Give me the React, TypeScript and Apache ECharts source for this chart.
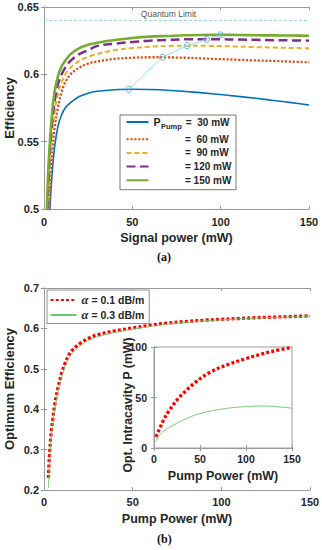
import React, { useEffect, useRef } from "react";
import * as echarts from "echarts";

// ---------- data ----------
const signalPower = [1.5, 2, 3, 4, 5, 6, 8, 10, 12, 15, 20, 25, 30, 40, 50, 60, 70, 80, 90, 100, 110, 120, 130, 140, 150];
const eff30 = [0.40, 0.43, 0.49, 0.515, 0.533, 0.546, 0.562, 0.570, 0.575, 0.579, 0.5835, 0.586, 0.5874, 0.5886, 0.5889, 0.5887, 0.5882, 0.5873, 0.5862, 0.585, 0.5836, 0.5822, 0.5806, 0.579, 0.5772];
const eff60 = [0.44, 0.47, 0.505, 0.53, 0.547, 0.56, 0.576, 0.587, 0.594, 0.600, 0.605, 0.608, 0.6095, 0.6115, 0.6123, 0.6127, 0.6126, 0.6123, 0.6118, 0.6113, 0.6108, 0.6103, 0.6099, 0.6094, 0.609];
const eff90 = [0.47, 0.495, 0.525, 0.546, 0.561, 0.572, 0.586, 0.594, 0.600, 0.605, 0.610, 0.613, 0.615, 0.618, 0.6195, 0.6205, 0.621, 0.6213, 0.6212, 0.621, 0.6206, 0.6202, 0.6199, 0.6196, 0.6193];
const eff120 = [0.48, 0.505, 0.535, 0.555, 0.569, 0.58, 0.593, 0.600, 0.605, 0.610, 0.615, 0.618, 0.621, 0.6228, 0.624, 0.625, 0.6255, 0.626, 0.626, 0.626, 0.6258, 0.6256, 0.6254, 0.6252, 0.625];
const eff150 = [0.49, 0.515, 0.543, 0.562, 0.577, 0.587, 0.599, 0.606, 0.610, 0.615, 0.6195, 0.622, 0.6235, 0.6255, 0.627, 0.628, 0.6285, 0.629, 0.6292, 0.6293, 0.6292, 0.629, 0.6289, 0.6288, 0.6287];
const pumpLabels = ["30 mW", "60 mW", "90 mW", "120 mW", "150 mW"];
const optSignal = [48, 67, 81, 92, 100];
const optEff = [0.5889, 0.6127, 0.6213, 0.626, 0.6293];
const quantumLimit = 0.64;

const pumpPower = [2.5, 3, 4, 5, 6, 8, 10, 12, 15, 20, 25, 30, 40, 50, 60, 70, 80, 90, 100, 110, 120, 130, 140, 150];
const optEffA01 = [0.23, 0.28, 0.34, 0.377, 0.41, 0.455, 0.49, 0.515, 0.541, 0.562, 0.575, 0.584, 0.594, 0.601, 0.608, 0.6135, 0.617, 0.620, 0.6225, 0.6245, 0.6265, 0.628, 0.6295, 0.631];
const optEffA03 = [0.205, 0.26, 0.325, 0.365, 0.398, 0.445, 0.48, 0.506, 0.533, 0.556, 0.570, 0.579, 0.590, 0.598, 0.605, 0.611, 0.615, 0.6185, 0.621, 0.6235, 0.6255, 0.627, 0.6285, 0.630];
const alphaLabels = ["α = 0.1 dB/m", "α = 0.3 dB/m"];

const pumpInset = [2, 4, 6.5, 10, 15, 25, 35, 45, 60, 80, 100, 115, 130, 150];
const intraA01 = [11, 15, 20, 27, 35, 47.5, 57, 65, 74.5, 82.5, 88.5, 92.5, 96, 99.5];
const intraA03 = [6.5, 9.5, 13, 16.5, 19.5, 24.6, 29, 32.8, 36.3, 39.4, 41, 41.6, 41.2, 39.4];

// ---------- styles ----------
const FONT = "'Liberation Sans', Arial, sans-serif";
const TXT = "#262626";
const AX = "#9a9a9a";

const zip = (xs: number[], ys: number[]) => xs.map((x, i) => [x, ys[i]]);

function xAx(grid: number, pos: "bottom" | "top", min: number, max: number, interval: number, extra: any = {}) {
  const main = pos === "bottom";
  return {
    type: "value",
    gridIndex: grid,
    position: pos,
    min,
    max,
    interval,
    nameMoveOverlap: false,
    axisLine: { show: true, lineStyle: { color: AX, width: 1 } },
    axisTick: { show: true, inside: true, length: 3, lineStyle: { color: AX } },
    axisLabel: { show: main, color: TXT, fontWeight: "bold", fontFamily: FONT, fontSize: 11, margin: 6 },
    splitLine: { show: false },
    ...extra,
  };
}
function yAx(grid: number, pos: "left" | "right", min: number, max: number, interval: number, extra: any = {}) {
  const main = pos === "left";
  return {
    type: "value",
    gridIndex: grid,
    position: pos,
    min,
    max,
    interval,
    nameMoveOverlap: false,
    axisLine: { show: true, lineStyle: { color: AX, width: 1 } },
    axisTick: { show: true, inside: true, length: 3, lineStyle: { color: AX } },
    axisLabel: { show: main, color: TXT, fontWeight: "bold", fontFamily: FONT, fontSize: 11, margin: 5 },
    splitLine: { show: false },
    ...extra,
  };
}
const nameStyle = (size: number) => ({ color: TXT, fontWeight: "bold", fontFamily: FONT, fontSize: size });
const hiddenSymbol = { color: "rgba(0,0,0,0)", borderWidth: 0, opacity: 0 };

export default function App() {
  const ref = useRef<HTMLDivElement>(null);
  useEffect(() => {
    if (!ref.current) return;
    const chart = echarts.init(ref.current, undefined, { renderer: "svg" });

    const topColors = ["#0072BD", "#D95319", "#EDB120", "#7E2F8E", "#77AC30"];
    const topData = [eff30, eff60, eff90, eff120, eff150];
    const topLine = [
      { width: 1.6, type: "solid" },
      { width: 2.3, type: [2.2, 1.7] },
      { width: 2, type: [5, 3] },
      { width: 2.5, type: [9, 4.5] },
      { width: 2.6, type: "solid" },
    ];

    const option: any = {
      animation: false,
      backgroundColor: "#ffffff",
      grid: [
        { left: 44, top: 7, width: 265, height: 202, show: false, outerBoundsMode: "none", containLabel: false },
        { left: 44, top: 288, width: 266, height: 202, show: false, outerBoundsMode: "none", containLabel: false },
        { left: 154, top: 347, width: 138, height: 101, show: true, backgroundColor: "#ffffff", borderColor: AX, borderWidth: 1, z: 10, outerBoundsMode: "none", containLabel: false },
      ],
      xAxis: [
        xAx(0, "bottom", 0, 150, 50, { axisLabel: { color: TXT, fontWeight: "bold", fontFamily: FONT, fontSize: 11, margin: 7 }, name: "Signal power (mW)", nameLocation: "middle", nameGap: 22.5, nameTextStyle: nameStyle(12.5) }),
        xAx(0, "top", 0, 150, 50),
        xAx(1, "bottom", 0, 150, 50, { name: "Pump Power (mW)", nameLocation: "middle", nameGap: 22.5, nameTextStyle: nameStyle(12.5) }),
        xAx(1, "top", 0, 150, 50),
        xAx(2, "bottom", 0, 150, 50, { z: 11, axisLabel: { color: TXT, fontWeight: "bold", fontFamily: FONT, fontSize: 10.5, margin: 5 }, name: "Pump Power (mW)", nameLocation: "middle", nameGap: 21.5, nameTextStyle: nameStyle(12.5) }),
        xAx(2, "top", 0, 150, 50, { z: 11 }),
      ],
      yAxis: [
        yAx(0, "left", 0.5, 0.65, 0.05, { name: "Efficiency", nameLocation: "middle", nameGap: 28.5, nameTextStyle: nameStyle(13) }),
        yAx(0, "right", 0.5, 0.65, 0.05),
        yAx(1, "left", 0.2, 0.7, 0.1, { name: "Optimum Efficiency", nameLocation: "middle", nameGap: 28.5, nameTextStyle: nameStyle(13) }),
        yAx(1, "right", 0.2, 0.7, 0.1),
        yAx(2, "left", 0, 100, 50, { z: 11, axisLabel: { color: TXT, fontWeight: "bold", fontFamily: FONT, fontSize: 10.5, margin: 7 } }),
        yAx(2, "right", 0, 100, 50, { z: 11 }),
      ],
      legend: [
        {
          data: pumpLabels,
          orient: "vertical",
          left: 120,
          top: 115,
          padding: [1.5, 4.6, 4.4, 5.5],
          itemGap: 3.7,
          itemWidth: 22,
          itemHeight: 9,
          itemStyle: hiddenSymbol,
          backgroundColor: "#ffffff",
          borderColor: "#555",
          borderWidth: 0.8,
          borderRadius: 0,
          selectedMode: false,
          textStyle: {
            fontFamily: FONT,
            fontWeight: "bold",
            fontSize: 10,
            color: TXT,
            rich: {
              p: { fontFamily: FONT, fontWeight: "bold", fontSize: 10.5, lineHeight: 17, color: TXT },
              s: { fontFamily: FONT, fontWeight: "bold", fontSize: 7.5, lineHeight: 8, verticalAlign: "bottom", padding: [0, 4, 0, 0.5], color: TXT },
              v0: { fontFamily: FONT, fontWeight: "bold", fontSize: 10, lineHeight: 17, color: TXT },
              v: { fontFamily: FONT, fontWeight: "bold", fontSize: 10, lineHeight: 9.2, padding: [0, 0, 0, 31.5], color: TXT },
            },
          },
          formatter: (name: string) => {
            const i = pumpLabels.indexOf(name);
            const pad = name.length < 6 ? "=  " : "= ";
            return i === 0 ? `{p|P}{s|Pump}{v0|${pad}${name}}` : `{v|${pad}${name}}`;
          },
        },
        {
          data: alphaLabels,
          orient: "vertical",
          left: 47,
          top: 290,
          padding: [3.5, 5, 2, 2.5],
          itemGap: 2,
          itemWidth: 26,
          itemHeight: 10,
          itemStyle: hiddenSymbol,
          backgroundColor: "#ffffff",
          borderColor: "#777",
          borderWidth: 0.8,
          borderRadius: 0,
          selectedMode: false,
          textStyle: {
            fontFamily: FONT,
            fontWeight: "bold",
            fontSize: 10.5,
            color: TXT,
            rich: {
              a: { fontFamily: "'Liberation Serif', 'DejaVu Serif', serif", fontStyle: "italic", fontSize: 12.5, lineHeight: 13, color: TXT },
              t: { fontFamily: FONT, fontWeight: "bold", fontSize: 10.5, lineHeight: 13, padding: [0, 0, 0, 3], color: TXT },
            },
          },
          formatter: (name: string) => `{a|α}{t|${name.replace("α = ", "= ")}}`,
        },
      ],
      series: [
        {
          name: "Quantum Limit",
          type: "line",
          xAxisIndex: 0,
          yAxisIndex: 0,
          data: [],
          markLine: {
            silent: true,
            symbol: "none",
            data: [{ yAxis: quantumLimit }],
            lineStyle: { color: "#9dd3ef", type: [3, 2], width: 1 },
            label: { show: true, position: "insideMiddleTop", formatter: "Quantum Limit", color: "#555", fontFamily: FONT, fontSize: 8.5, distance: 1.5, offset: [-8, 0] },
          },
        },
        ...topData.map((d, i) => ({
          name: pumpLabels[i],
          type: "line",
          xAxisIndex: 0,
          yAxisIndex: 0,
          data: zip(signalPower, d),
          showSymbol: false,
          symbol: "none",
          smooth: 0.35,
          clip: true,
          color: topColors[i],
          lineStyle: { color: topColors[i], ...topLine[i] },
          z: 2 + i,
        })),
        {
          name: "optimum",
          type: "line",
          xAxisIndex: 0,
          yAxisIndex: 0,
          data: zip(optSignal, optEff),
          symbol: "circle",
          symbolSize: 6,
          showSymbol: true,
          color: "#4dbeee",
          itemStyle: { color: "rgba(255,255,255,0)", borderColor: "#4dbeee", borderWidth: 1 },
          lineStyle: { color: "#8fd6f2", width: 0.9 },
          z: 9,
        },
        {
          name: alphaLabels[0],
          type: "line",
          xAxisIndex: 2,
          yAxisIndex: 2,
          data: zip(pumpPower, optEffA01),
          symbol: "none",
          smooth: 0.35,
          color: "#ff0000",
          lineStyle: { color: "#ff0000", width: 3.3, type: [3, 2.2] },
          z: 3,
        },
        {
          name: alphaLabels[1],
          type: "line",
          xAxisIndex: 2,
          yAxisIndex: 2,
          data: zip(pumpPower, optEffA03),
          symbol: "none",
          smooth: 0.35,
          color: "#6cc66c",
          lineStyle: { color: "#6cc66c", width: 0.9 },
          z: 4,
        },
        {
          name: "inset α = 0.1",
          type: "line",
          xAxisIndex: 4,
          yAxisIndex: 4,
          data: zip(pumpInset, intraA01),
          symbol: "none",
          smooth: 0.35,
          color: "#ff0000",
          lineStyle: { color: "#ff0000", width: 3.3, type: [3, 2.2] },
          z: 13,
        },
        {
          name: "inset α = 0.3",
          type: "line",
          xAxisIndex: 4,
          yAxisIndex: 4,
          data: zip(pumpInset, intraA03),
          symbol: "none",
          smooth: 0.35,
          color: "#6cc66c",
          lineStyle: { color: "#6cc66c", width: 0.9 },
          z: 13,
        },
      ],
      graphic: [
        {
          type: "text",
          x: 128,
          y: 405,
          rotation: Math.PI / 2,
          z: 20,
          style: { text: "Opt. Intracavity P (mW)", font: `bold 12.3px ${FONT}`, fill: TXT, align: "center", verticalAlign: "middle" },
        },
        { type: "text", left: 157, top: 251, style: { text: "(a)", font: "bold 12px 'Liberation Serif', serif", fill: "#111" } },
        { type: "text", left: 157, top: 533, style: { text: "(b)", font: "bold 12px 'Liberation Serif', serif", fill: "#111" } },
      ],
    };
    chart.setOption(option);
    return () => chart.dispose();
  }, []);
  return <div ref={ref} style={{ position: "absolute", left: 0, top: 0, width: 322, height: 550, background: "#fff" }} />;
}
